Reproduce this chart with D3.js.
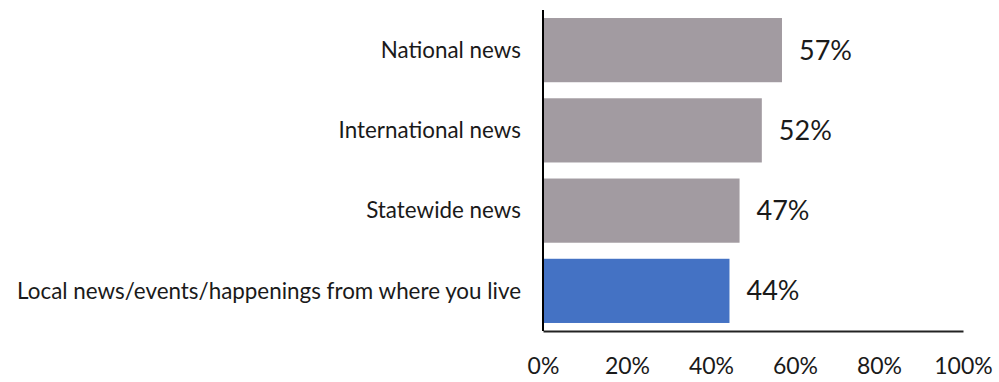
<!DOCTYPE html>
<html><head><meta charset="utf-8">
<script src="https://cdn.jsdelivr.net/npm/d3@7"></script>
<style>body{margin:0;background:#fff}svg{display:block}</style>
</head><body>
<svg id="c" width="999" height="382"></svg>
<script>
const categories = ["National news","International news","Statewide news","Local news/events/happenings from where you live"];
const values = [56.9, 52.1, 46.8, 44.4];
const highlight = [false, false, false, true];
const tickValues = [0, 20, 40, 60, 80, 100];

const svg = d3.select("#c");
const x0 = 543, x1 = 963, yTop = 10, yBot = 331;
const x = d3.scaleLinear().domain([0,100]).range([x0, x1]);
const y = d3.scaleBand().domain(categories).range([yTop, yBot]).paddingInner(0.2).paddingOuter(0.1);
const font = "Lato, 'Open Sans', sans-serif";

svg.selectAll("rect.bar").data(categories).enter().append("rect")
  .attr("x", x(0)).attr("y", d => y(d))
  .attr("width", (d,i) => x(values[i]) - x(0)).attr("height", y.bandwidth())
  .attr("fill", (d,i) => highlight[i] ? "#4472C4" : "#A29BA1");

svg.selectAll("text.val").data(categories).enter().append("text")
  .attr("x", (d,i) => x(values[i]) + 17).attr("y", d => y(d) + y.bandwidth()/2)
  .attr("dy", "0.35em").attr("font-family", font).attr("font-size", 27).attr("fill", "#1a1a1a")
  .text((d,i) => Math.round(values[i]) + "%");

svg.selectAll("text.cat").data(categories).enter().append("text")
  .attr("x", 521).attr("y", d => y(d) + y.bandwidth()/2)
  .attr("dy", "0.35em").attr("text-anchor", "end").attr("font-family", font).attr("font-size", 22.4).attr("fill", "#1a1a1a")
  .text(d => d);

const xAxis = d3.axisBottom(x).tickValues(tickValues).tickSize(0).tickPadding(0).tickFormat(d => d + "%");
const gx = svg.append("g").attr("transform", `translate(0,${yBot})`).call(xAxis);
gx.select(".domain").attr("stroke", "#222").attr("stroke-width", 2);
gx.selectAll("text").attr("font-family", font).attr("font-size", 23).attr("fill", "#1a1a1a").attr("y", 35).attr("dy", "0.35em");

svg.append("line").attr("x1", x0).attr("x2", x0).attr("y1", yTop).attr("y2", yBot)
  .attr("stroke", "#000").attr("stroke-width", 2);
</script>
</body></html>
